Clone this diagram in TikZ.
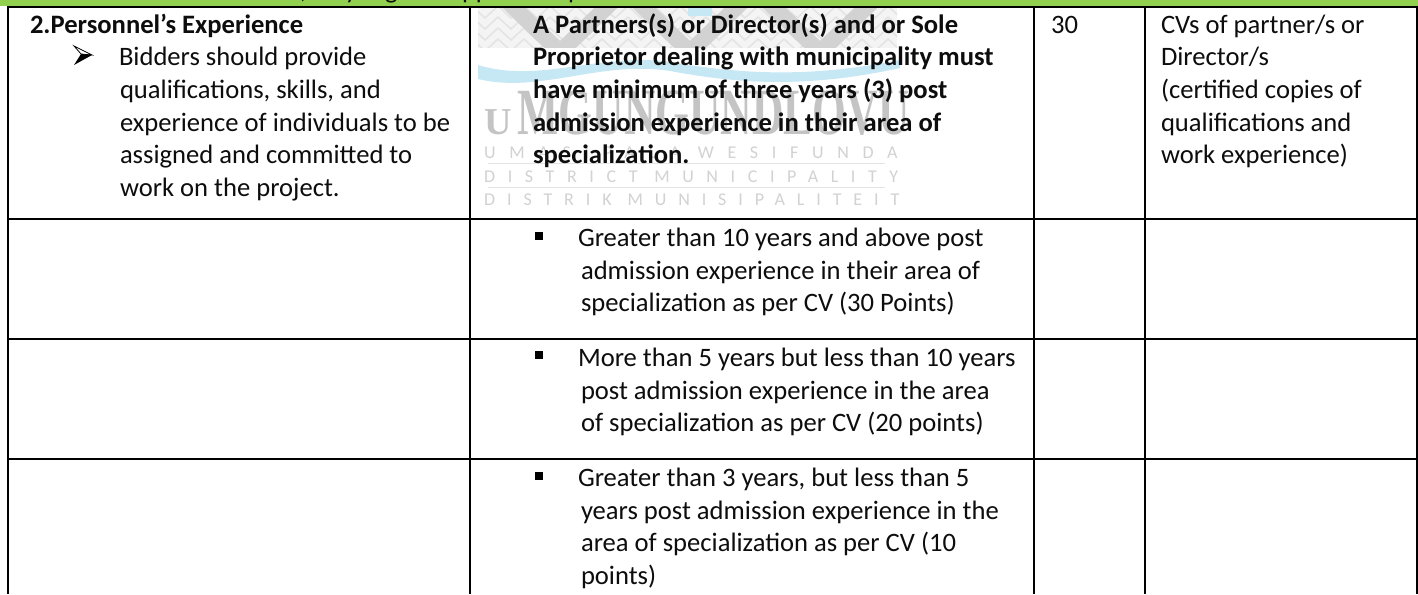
\documentclass[tikz,border=0pt]{standalone}
\usepackage{fontspec}
\setmainfont{Carlito}
\newfontfamily\wmfont{Liberation Serif}
\newfontfamily\wmsans{Carlito}
\usetikzlibrary{calc}
\definecolor{band}{HTML}{92D050}
\definecolor{wmgrey}{HTML}{C4C4C4}
\definecolor{wmthin}{HTML}{D2D2D2}
\definecolor{wmpale}{HTML}{E4E4E4}
\definecolor{wmback}{HTML}{F4F4F4}
\definecolor{wmdark}{HTML}{D2D2D2}
\definecolor{wmblue}{HTML}{C6E8F5}
\tikzset{
  txt/.style={anchor=base west,inner sep=0pt,outer sep=0pt,font=\fontsize{26.6}{30}\selectfont,text=black!95},
  bold/.style={txt,font=\fontsize{26.6}{30}\selectfont\bfseries},
  wm/.style={anchor=base west,inner sep=0pt,text=wmthin,font=\wmsans\fontsize{18}{20}\selectfont},
  rule/.style={line width=2.6pt,black},
}
\begin{document}
\begin{tikzpicture}[x=1pt,y=-1pt]
\useasboundingbox (0,0) rectangle (1418,594);
\fill[white] (0,0) rectangle (1418,594);
\fill[band] (0,0) rectangle (1418,6);
% clipped line of the band
\begin{scope}
\clip (0,0) rectangle (1418,5);
\foreach \n/\gx/\g in {c1/300/{,},c2/345/y,c3/385/g,c4/462/pp,c5/568/p}{
  \node[txt] (\n) at (\gx,-1) {\g};
}
\end{scope}
% watermark
\begin{scope}
\clip (478,8) rectangle (897,48);
\fill[wmback] (478,8) rectangle (897,48);
\foreach \i in {0,...,16}{
  \foreach \k in {0,1,2,3}{
    \draw[wmpale,line width=1.6pt] ({472+\i*26},{6+\k*11}) -- ++(13,12) -- ++(13,-12);
  }
}
\fill[wmblue] (688,8) rectangle (712,16);
\foreach \bx in {560,690,820}{
  \draw[wmdark,line width=16pt] ({\bx-52},2) -- (\bx,52) -- ({\bx+52},2);
}
\end{scope}
\fill[wmblue] (478,65) .. controls (540,84) and (600,52) .. (670,62)
  .. controls (730,72) and (800,80) .. (900,60)
  -- (900,68) .. controls (800,90) and (730,82) .. (670,71)
  .. controls (600,60) and (540,94) .. (478,79) -- cycle;
\node[wm,text=wmgrey,font=\wmfont\bfseries\fontsize{66}{68}\selectfont] (wm1) at (484,134)
  {{\fontsize{38}{40}\selectfont U}\hspace{6pt}\scalebox{0.66}[1]{MGUNGUNDLOVU}};
\node[wm] (wm2) at (484,158) {\addfontfeature{LetterSpace=76}UMASIPALA WESIFUNDA};
\node[wm] (wm3) at (484,182) {\addfontfeature{LetterSpace=70}DISTRICT MUNICIPALITY};
\node[wm] (wm4) at (484,205) {\addfontfeature{LetterSpace=66}DISTRIK MUNISIPALITEIT};
\draw[wmpale,line width=1pt] (488,163) -- (885,163) (488,187) -- (885,187);
% table rules
\coordinate (tl) at (8,7); \coordinate (tr) at (1417,7);
\draw[rule] (tl) -- (tr);
\foreach \y in {219,339,459} \draw[rule] (8,\y) -- (1417,\y);
\foreach \x in {8,470,1034,1145,1417} \draw[rule] (\x,6) -- (\x,594);
\begin{scope}[yshift=-1.5pt]
% col 1
\node[bold] (a0) at (30,32) {2.Personnel’s Experience};
\node[txt] (a1) at (119,64) {Bidders should provide};
\node[txt] (a2) at (120,97) {qualifications, skills, and};
\node[txt] (a3) at (120,130) {experience of individuals to be};
\node[txt] (a4) at (120,162) {assigned and committed to};
\node[txt] (a5) at (120,195) {work on the project.};
% col 2
\node[bold] (b1) at (533,32) {A Partners(s) or Director(s) and or Sole};
\node[bold] (b2) at (533,64) {Proprietor dealing with municipality must};
\node[bold] (b3) at (533,97) {have minimum of three years (3) post};
\node[bold] (b4) at (533,130) {admission experience in their area of};
\node[bold] (b5) at (533,162) {specialization.};
\node[txt] (c1a) at (578,245) {Greater than 10 years and above post};
\node[txt] (c1b) at (581,278) {admission experience in their area of};
\node[txt] (c1c) at (581,310) {specialization as per CV (30 Points)};
\node[txt] (c2a) at (578,365) {More than 5 years but less than 10 years};
\node[txt] (c2b) at (581,398) {post admission experience in the area};
\node[txt] (c2c) at (581,430) {of specialization as per CV (20 points)};
\node[txt] (c3a) at (578,485) {Greater than 3 years, but less than 5};
\node[txt] (c3b) at (581,518) {years post admission experience in the};
\node[txt] (c3c) at (581,550) {area of specialization as per CV (10};
\node[txt] (c3d) at (581,583) {points)};
% col 3
\node[txt] (d1) at (1051,32) {30};
% col 4
\node[txt] (e1) at (1161,32) {CVs of partner/s or};
\node[txt] (e2) at (1161,64) {Director/s};
\node[txt] (e3) at (1161,97) {(certified copies of};
\node[txt] (e4) at (1161,130) {qualifications and};
\node[txt] (e5) at (1161,162) {work experience)};
\end{scope}
\draw[black,line width=.8pt,fill=white] (74,46) -- (92,55) -- (81,54) -- cycle;
\fill[black] (81,54) -- (92,55) -- (74,65) -- cycle;
\foreach \n/\y in {s1/232,s2/351,s3/472}
  \fill[black] (535,\y) rectangle ++(8,8) coordinate (\n);
\end{tikzpicture}
\end{document}
